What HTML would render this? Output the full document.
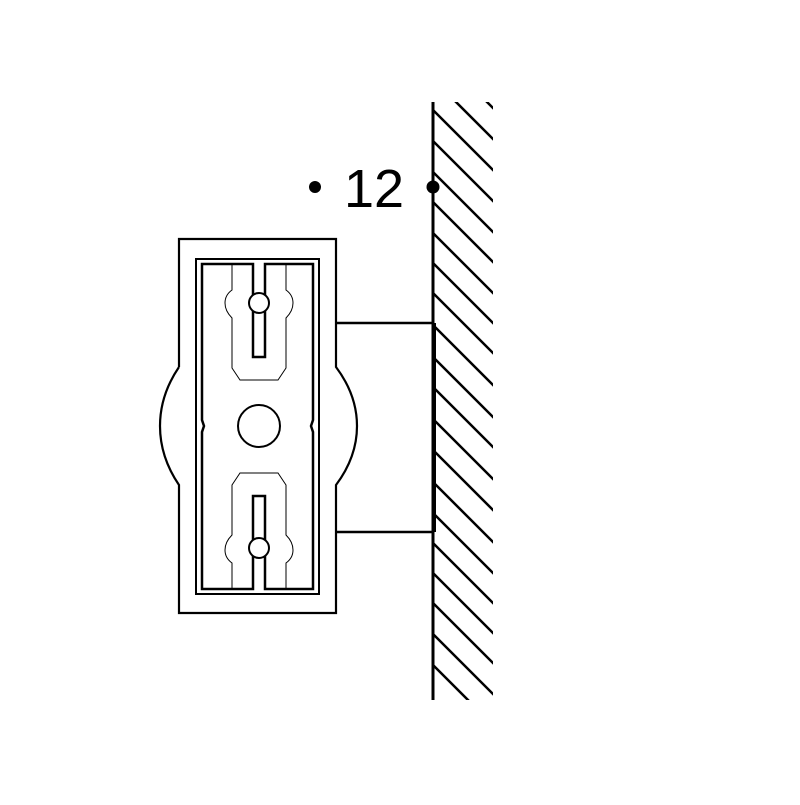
<!DOCTYPE html>
<html><head><style>html,body{margin:0;padding:0;background:#fff}</style></head>
<body>
<svg width="800" height="800" viewBox="0 0 800 800" xmlns="http://www.w3.org/2000/svg">
<defs><clipPath id="w"><rect x="433" y="102" width="60" height="598"/></clipPath></defs>
<g clip-path="url(#w)" stroke="#000" stroke-width="2.5">
<g id="h">
<line x1="433" y1="-4" x2="533" y2="96"/>
</g>
</g>
<g clip-path="url(#w)" stroke="#000" stroke-width="2.5" fill="none">
<path d="M433 79l80 80M433 110l80 80M433 141l80 80M433 172l80 80M433 202l80 80M433 233l80 80M433 263l80 80M433 293l80 80M433 325l80 80M433 357l80 80M433 387l80 80M433 419l80 80M433 450l80 80M433 482l80 80M433 513l80 80M433 543l80 80M433 573l80 80M433 603l80 80M433 634l80 80M433 665l80 80M433 48l80 80M433 17l80 80"/>
</g>
<line x1="433" y1="102" x2="433" y2="700" stroke="#000" stroke-width="3"/>
<rect x="433" y="323" width="3" height="209" fill="#000"/>
<circle cx="315" cy="187" r="6" fill="#000"/>
<circle cx="433" cy="187" r="6.5" fill="#000"/>
<text x="344" y="207" font-family="Liberation Sans, sans-serif" font-size="54" font-weight="300" fill="#000">12</text>
<g fill="none" stroke="#000">
<line x1="336" y1="323" x2="433" y2="323" stroke-width="2.5"/>
<line x1="336" y1="532" x2="433" y2="532" stroke-width="2.5"/>
<path d="M179 367V239H336V367Q357 395 357 426Q357 457 336 485V613H179V485Q160 457 160 426Q160 395 179 367" stroke-width="2.2"/>
<rect x="196" y="259" width="123" height="335" stroke-width="2"/>
<path d="M202 264H253V357H265V264H313V420L311 426L313 432V589H265V496H253V589H202V432L204 426L202 420Z" stroke-width="2.5"/>
<path d="M232 264V290Q225 295 225 303Q225 311 232 318V368L240 380H278L286 368V318Q293 311 293 303Q293 295 286 290V264" stroke-width="1"/>
<path d="M232 589V563Q225 558 225 550Q225 542 232 535V485L240 473H278L286 485V535Q293 542 293 550Q293 558 286 563V589" stroke-width="1"/>
<circle cx="259" cy="303" r="10" fill="#fff" stroke-width="2"/>
<circle cx="259" cy="548" r="10" fill="#fff" stroke-width="2"/>
<circle cx="259" cy="426" r="21" stroke-width="2"/>
</g>
</svg>
</body></html>
